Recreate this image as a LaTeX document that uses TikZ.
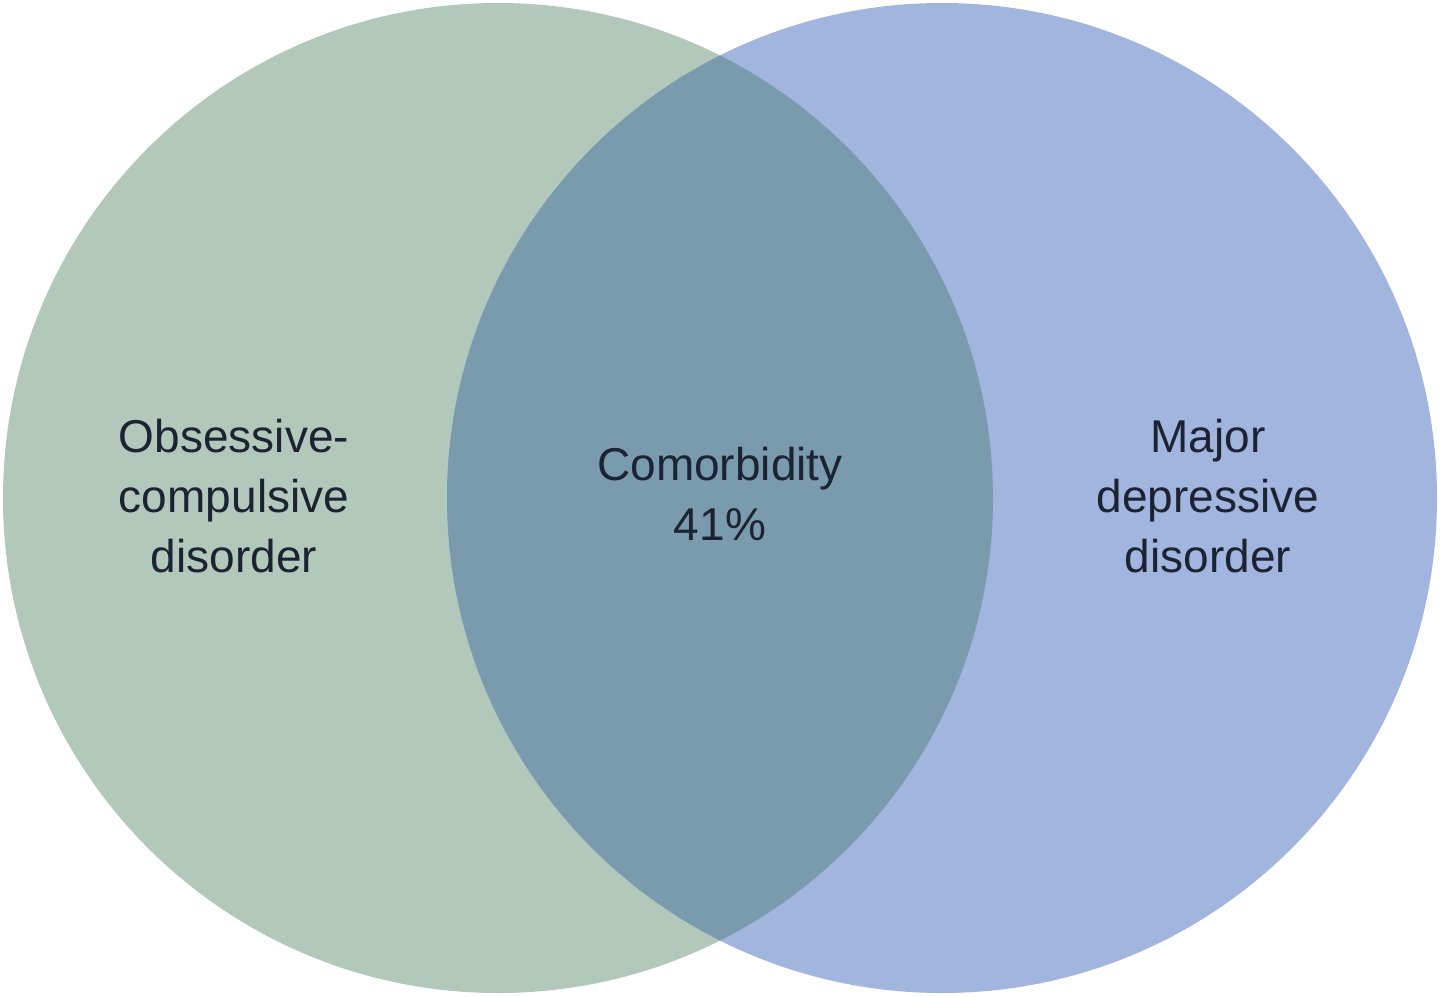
\documentclass[tikz,border=0pt]{standalone}
\usepackage{fontspec}
\setmainfont{Liberation Sans}
\definecolor{lc}{HTML}{B2C8BB}
\definecolor{rc}{HTML}{A2B5DE}
\definecolor{mc}{HTML}{7A9AAE}
\definecolor{tc}{HTML}{1C2333}
\begin{document}
\begin{tikzpicture}[x=1pt,y=-1pt,lbl/.style={align=center,text=tc,font=\fontsize{46}{60}\selectfont}]
\useasboundingbox (0,0) rectangle (1440,996);
\fill[white] (0,0) rectangle (1440,996);
\fill[lc] (498,498) circle (495);
\fill[rc] (942,498) circle (495);
\begin{scope}
\clip (498,498) circle (495);
\fill[mc] (942,498) circle (495);
\end{scope}
\node[lbl] (l) at (234,496) {Obsessive-\\compulsive\\disorder};
\node[lbl] (m) at (720,494) {Comorbidity\\41\%};
\node[lbl] (r) at (1208,496) {Major\\depressive\\disorder};
\end{tikzpicture}
\end{document}
